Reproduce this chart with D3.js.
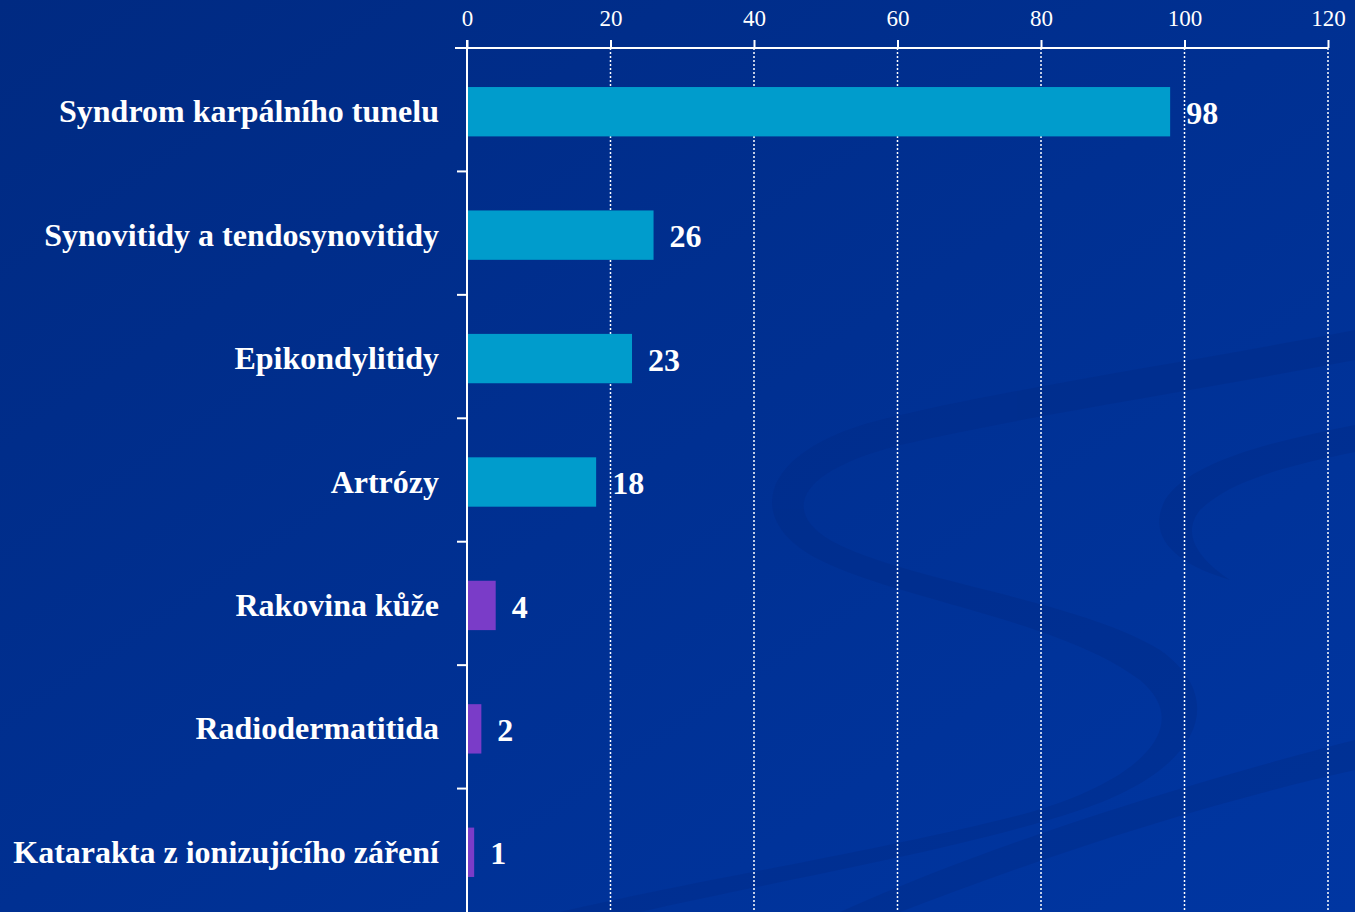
<!DOCTYPE html>
<html>
<head>
<meta charset="utf-8">
<script src="https://cdn.jsdelivr.net/npm/d3@7"></script>
<style>
  html, body { margin: 0; padding: 0; overflow: hidden; }
  svg { display: block; }
</style>
</head>
<body>
<svg id="chart"></svg>
<script>
// data
var categories = ["Syndrom karpálního tunelu", "Synovitidy a tendosynovitidy", "Epikondylitidy",
                  "Artrózy", "Rakovina kůže", "Radiodermatitida", "Katarakta z ionizujícího záření"];
var values = [98, 26, 23, 18, 4, 2, 1];
var groups = ["a", "a", "a", "a", "b", "b", "b"];
var xTicks = [0, 20, 40, 60, 80, 100, 120];

var width = 1355, height = 912;
var plotLeft = 467, plotRight = 1328, plotTop = 48, plotBottom = 912;

var svg = d3.select("#chart").attr("width", width).attr("height", height);

// background
var defs = svg.append("defs");
var grad = defs.append("linearGradient").attr("id", "bg")
    .attr("x1", "0").attr("y1", "0").attr("x2", "1").attr("y2", "1");
grad.append("stop").attr("offset", "0").attr("stop-color", "#002a82");
grad.append("stop").attr("offset", "1").attr("stop-color", "#0036a2");
svg.append("rect").attr("width", width).attr("height", height).attr("fill", "url(#bg)");

// faint swirl decoration
var deco = svg.append("g").attr("fill", "#002880").attr("opacity", 0.3);
deco.append("path").attr("d",
  "M1355,330 C1200,360 1000,390 880,420 C760,450 740,520 820,560 C900,600 1060,620 1140,680 " +
  "C1200,730 1130,790 1000,820 C880,850 700,880 560,912 L640,912 C780,880 960,850 1080,810 " +
  "C1200,770 1230,700 1160,650 C1080,600 900,580 830,540 C780,510 800,470 900,445 " +
  "C1030,415 1200,390 1355,360 Z");
deco.append("path").attr("d",
  "M1355,425 C1280,440 1190,460 1165,500 C1145,540 1180,565 1230,580 " +
  "C1200,560 1180,535 1200,510 C1230,480 1290,465 1355,452 Z");
deco.append("path").attr("d",
  "M1355,740 C1200,780 1000,840 840,912 L900,912 C1060,850 1220,800 1355,770 Z");

var x = d3.scaleLinear().domain([0, 120]).range([plotLeft, plotRight]);
var y = d3.scaleBand().domain(categories).range([plotTop + 2, plotBottom + 2]).paddingInner(0.6).paddingOuter(0.3);
var yb = d3.scaleBand().domain(categories).range([plotTop, plotBottom]);
var color = d3.scaleOrdinal().domain(["a", "b"]).range(["#009ccc", "#7a3cc8"]);

// grid
svg.append("g").selectAll("line").data(xTicks.slice(1)).enter().append("line")
    .attr("x1", function(d) { return x(d); }).attr("x2", function(d) { return x(d); })
    .attr("y1", plotTop).attr("y2", plotBottom)
    .attr("stroke", "#ffffff").attr("stroke-width", 1.5).attr("stroke-dasharray", "2,2");

// bars
svg.append("g").selectAll("rect").data(values).enter().append("rect")
    .attr("x", x(0))
    .attr("y", function(d, i) { return y(categories[i]); })
    .attr("width", function(d) { return x(d) - x(0); })
    .attr("height", y.bandwidth())
    .attr("fill", function(d, i) { return color(groups[i]); });

// top axis
var xAxis = d3.axisTop(x).tickValues(xTicks).tickSize(8).tickPadding(14);
var gx = svg.append("g").attr("transform", "translate(0," + plotTop + ")").call(xAxis);
gx.select(".domain").attr("stroke", "#fff").attr("stroke-width", 2)
    .attr("d", "M" + (plotLeft - 12) + ",0H" + plotRight);
gx.selectAll(".tick line").attr("stroke", "#fff").attr("stroke-width", 2);
gx.selectAll(".tick text").attr("fill", "#fff")
    .style("font-family", "'Liberation Serif', 'Times New Roman', serif").style("font-size", "23px");

// left axis
var yAxis = d3.axisLeft(yb).tickValues([]).tickSize(0);
var gy = svg.append("g").attr("transform", "translate(" + plotLeft + ",0)").call(yAxis);
gy.select(".domain").attr("stroke", "#fff").attr("stroke-width", 2)
    .attr("d", "M0," + (plotTop - 8) + "V" + plotBottom);
gy.selectAll("line.cat").data(categories.slice(1)).enter().append("line")
    .attr("x1", -10).attr("x2", 0)
    .attr("y1", function(d) { return yb(d); }).attr("y2", function(d) { return yb(d); })
    .attr("stroke", "#fff").attr("stroke-width", 2);

// category labels
svg.append("g").selectAll("text").data(categories).enter().append("text")
    .attr("x", plotLeft - 28)
    .attr("y", function(d) { return y(d) + y.bandwidth() / 2; })
    .attr("dy", "0.33em")
    .attr("text-anchor", "end")
    .attr("fill", "#fff")
    .style("font-family", "'Liberation Serif', 'Times New Roman', serif")
    .style("font-weight", "bold").style("font-size", "32px")
    .text(function(d) { return d; });

// value labels
svg.append("g").selectAll("text").data(values).enter().append("text")
    .attr("x", function(d) { return x(d) + 16; })
    .attr("y", function(d, i) { return y(categories[i]) + y.bandwidth() / 2; })
    .attr("dy", "0.38em")
    .attr("fill", "#fff")
    .style("font-family", "'Liberation Serif', 'Times New Roman', serif")
    .style("font-weight", "bold").style("font-size", "32px")
    .text(function(d) { return d; });
</script>
</body>
</html>
